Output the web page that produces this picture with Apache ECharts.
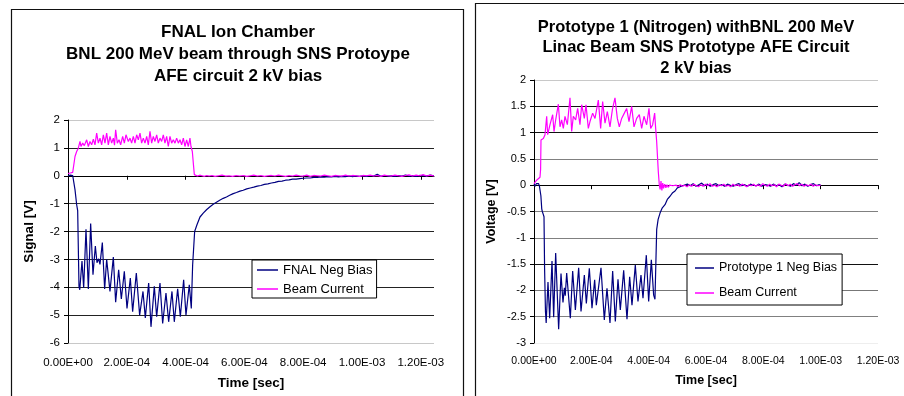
<!DOCTYPE html>
<html>
<head>
<meta charset="utf-8">
<title>Ion chamber signals</title>
<script src="https://cdn.jsdelivr.net/npm/echarts@6/dist/echarts.min.js"></script>
<style>
  html, body { margin: 0; padding: 0; background: #fff; }
  #chart { width: 904px; height: 396px; }
</style>
</head>
<body>
<div id="chart"></div>
<script>
// time in microseconds, signal in volts

// left chart: FNAL ion chamber
var fnalBias = [
  [0, 0.0], [4, -0.03], [8, 0.02], [12, -0.04], [16, 0.01], [20.4, 0.0], [23.8, -0.5], [29.5, -1.04],
  [32.9, -1.25], [37.4, -3.97], [40, -4.09], [47.6, -3.06], [53.3, -4.03], [61.2, -1.92], [69.2, -4.06],
  [77.1, -1.71], [85, -3.55], [93, -2.52], [98.6, -3.12], [104.3, -2.98], [108.8, -3.18], [116.8, -2.4],
  [124.7, -4.06], [131.5, -3.0], [142.8, -4.15], [154.2, -2.92], [162.1, -4.54], [172.3, -3.37],
  [181.4, -4.42], [191.6, -3.43], [200.7, -4.76], [212, -3.67], [219.9, -4.88], [232.4, -3.49],
  [243.7, -5.0], [255.1, -4.15], [263, -5.1], [274.4, -3.85], [282.3, -5.42], [293.6, -3.97],
  [301.6, -5.06], [312.9, -3.85], [322, -5.3], [333.3, -4.21], [342.4, -5.24], [353.7, -4.15],
  [361.6, -5.24], [373, -4.06], [382.1, -5.06], [393.4, -3.73], [401.3, -5.0], [412.6, -3.91],
  [419.4, -4.76], [424, -3.19], [430.8, -2.0], [438.7, -1.76],
  [449, -1.48], [460, -1.34], [472, -1.21], [483, -1.11], [494, -1.02], [505, -0.95], [516, -0.88],
  [528, -0.81], [539, -0.76], [550, -0.7], [562, -0.64], [573, -0.6], [585, -0.55], [596, -0.52],
  [608, -0.47], [620, -0.44], [632, -0.41], [644, -0.37], [656, -0.35], [668, -0.31], [680, -0.29],
  [692, -0.26], [704, -0.24], [716, -0.2], [728, -0.19], [740, -0.16], [752, -0.15], [764, -0.12],
  [776, -0.12], [788, -0.1], [800, -0.09], [812, -0.08], [824, -0.08], [836, -0.06], [848, -0.06],
  [860, -0.04], [872, -0.05], [884, -0.03], [896, -0.04], [908, -0.02], [920, -0.04], [932, -0.02],
  [944, -0.03], [956, -0.01], [968, -0.03], [980, -0.01], [992, -0.02], [1004, 0.0], [1016, -0.02],
  [1028, 0.01], [1040, -0.01], [1052, 0.05], [1064, -0.02], [1076, 0.01], [1088, -0.01], [1100, 0.0],
  [1112, -0.02], [1124, 0.01], [1136, -0.01], [1148, 0.02], [1160, -0.01], [1172, 0.0], [1184, -0.02],
  [1196, 0.01], [1208, 0.0], [1220, -0.01], [1232, 0.02], [1245, 0.0]
];

var beamLeft = [
  [0, 0.08], [4, 0.05], [8, 0.1], [12, 0.07], [16, 0.12], [20.4, 0.16], [23.8, 0.69], [29.5, 0.87],
  [35.1, 0.99], [40.8, 1.23], [44.2, 1.05], [49.9, 1.17], [55.5, 1.08], [63.5, 1.29], [69.2, 1.05],
  [74.8, 1.23], [80.5, 1.11], [86.2, 1.31], [91.8, 1.11], [97.5, 1.53], [103.2, 1.17], [108.8, 1.35],
  [114.5, 1.11], [120.2, 1.47], [125.8, 1.17], [131.5, 1.53], [137.2, 1.11], [142.8, 1.41], [148.5, 1.17],
  [154.2, 1.35], [158.2, 1.1], [162.1, 1.65], [167.8, 1.17], [173.5, 1.29], [179.1, 1.11], [185.9, 1.41],
  [191.6, 1.17], [197.3, 1.47], [205.2, 1.23], [210.9, 1.35], [216.5, 1.17], [222.2, 1.41], [227.9, 1.17],
  [233.5, 1.47], [239.2, 1.29], [244.9, 1.53], [250.5, 1.17], [256.2, 1.35], [261.9, 1.17], [267.6, 1.41],
  [273.2, 1.11], [278.9, 1.59], [284.6, 1.17], [290.2, 1.41], [295.9, 1.23], [301.6, 1.47], [307.2, 1.17],
  [312.9, 1.35], [318.6, 1.23], [324.2, 1.47], [329.9, 1.17], [335.6, 1.41], [341.2, 1.05], [346.9, 1.41],
  [352.6, 1.17], [358.2, 1.29], [363.9, 1.17], [369.6, 1.35], [375.3, 1.17], [380.9, 1.29], [386.6, 1.11],
  [392.3, 1.35], [397.9, 1.05], [403.6, 1.29], [409.3, 1.05], [414.9, 1.35], [418.3, 1.05], [422.9, 0.87],
  [426.3, 0.45], [429.7, 0.04], [432, -0.02], [436, 0.03], [440, -0.01], [448, 0.02], [456, 0.0],
  [464, -0.02], [472, 0.01], [480, -0.01], [490, 0.01], [500, -0.02], [512, 0.0], [524, 0.02],
  [536, -0.01], [548, 0.0], [560, -0.02], [572, 0.01], [584, -0.01], [596, 0.01], [608, -0.02],
  [620, 0.0], [632, 0.02], [644, -0.01], [656, 0.01], [668, -0.02], [680, 0.0], [692, 0.01],
  [704, -0.01], [716, 0.02], [728, 0.0], [740, -0.02], [752, 0.01], [764, -0.01], [776, 0.02],
  [788, 0.0], [800, -0.01], [812, 0.02], [824, -0.02], [836, 0.01], [848, 0.0], [860, -0.01],
  [872, 0.02], [884, 0.0], [896, -0.02], [908, 0.01], [920, 0.0], [932, -0.01], [944, 0.02],
  [956, -0.01], [968, 0.01], [980, 0.0], [992, -0.02], [1004, 0.01], [1016, 0.0], [1028, 0.02],
  [1040, -0.01], [1052, 0.01], [1064, -0.02], [1076, 0.02], [1088, 0.0], [1100, -0.01], [1112, 0.02],
  [1124, 0.0], [1136, -0.02], [1148, 0.01], [1160, 0.03], [1172, -0.01], [1184, 0.02], [1196, 0.0],
  [1208, 0.04], [1220, -0.01], [1232, 0.02], [1245, -0.01]
];

// right chart: prototype 1 (nitrogen)
var protoBias = [
  [0, 0.02], [4, -0.02], [8, 0.03], [12, 0.0], [16, 0.03], [19, -0.02], [21, 0.0], [24, -0.2],
  [27, -0.45], [29, -0.5], [32, -0.55], [34.9, -0.6], [37, -1.6], [40, -2.4], [42.5, -2.62],
  [48.8, -1.84], [54.7, -2.53], [62.8, -1.44], [68.6, -2.51], [75.6, -1.29], [86, -2.74], [94.2, -1.68],
  [101.1, -2.23], [106, -1.95], [109, -2.1], [114, -1.67], [126.7, -2.53], [134.9, -1.63], [144.3, -2.37],
  [155.8, -1.57], [164, -2.4], [175.6, -1.71], [182.6, -2.25], [193, -1.58], [202.3, -2.34], [211.6, -1.8],
  [217.4, -2.28], [233.7, -1.57], [245.3, -2.56], [254.6, -1.96], [265.1, -2.62], [274.4, -1.63],
  [283.7, -2.59], [293, -1.79], [301.1, -2.37], [312.8, -1.62], [324.4, -2.55], [333.7, -1.74],
  [341.8, -2.28], [353.4, -1.52], [362.7, -2.21], [373.2, -1.71], [380.2, -2.15], [391.8, -1.33],
  [400, -2.21], [409.3, -1.42], [417.4, -2.09], [422, -2.17], [428, -0.84], [433, -0.65], [439.7, -0.53],
  [447.6, -0.43], [457, -0.37], [465, -0.27], [474.5, -0.21], [482.5, -0.15], [492, -0.11], [500, -0.05],
  [509.5, -0.03], [523, 0.0], [535, 0.02], [545, -0.01], [555, 0.03], [565, -0.02], [575, 0.01],
  [585, 0.04], [595, -0.01], [605, 0.02], [615, -0.02], [625, 0.01], [635, 0.03], [645, -0.01],
  [655, 0.01], [665, -0.02], [675, 0.02], [685, 0.0], [695, -0.02], [705, 0.01], [715, 0.03],
  [725, -0.01], [735, 0.01], [745, -0.02], [755, 0.02], [765, 0.0], [775, -0.01], [785, 0.02],
  [795, -0.02], [805, 0.01], [815, 0.0], [825, -0.02], [835, 0.02], [845, -0.01], [855, 0.01],
  [865, -0.03], [875, 0.02], [885, 0.0], [895, -0.02], [905, 0.03], [915, 0.0], [925, 0.05],
  [935, -0.01], [945, 0.02], [955, -0.02], [965, 0.01], [975, 0.03], [985, -0.01], [995, 0.01], [1000, 0.0]
];

var beamRight = [
  [0, 0.03], [5, 0.06], [10, 0.1], [15, 0.13], [20.9, 0.15], [23, 0.3], [24.4, 0.86], [32.6, 0.89],
  [38.4, 0.96], [44.2, 1.31], [47.7, 0.96], [55.8, 1.15], [65.1, 1.34], [69.8, 1.02], [75.6, 1.24],
  [84.9, 1.54], [90.7, 1.11], [96.5, 1.24], [102.3, 1.08], [108.1, 1.31], [116.3, 1.15], [125.6, 1.66],
  [131.4, 1.02], [137.2, 1.31], [145.3, 1.24], [152.3, 1.46], [160.4, 1.15], [166.3, 1.53], [175.6, 1.27],
  [181.4, 1.53], [189.5, 1.08], [195.3, 1.21], [204.6, 1.37], [212.8, 1.27], [224.4, 1.62], [232.5, 1.08],
  [239.5, 1.59], [247.7, 1.18], [255.8, 1.4], [265.1, 1.11], [273.2, 1.43], [282.5, 1.66], [290.7, 1.27],
  [297.6, 1.11], [305.8, 1.27], [315.1, 1.37], [323.2, 1.46], [331.4, 1.21], [340.7, 1.5], [348.8, 1.11],
  [358.1, 1.27], [367.4, 1.34], [375.6, 1.08], [383.7, 1.31], [393, 1.15], [401.1, 1.46], [407, 1.08],
  [413.9, 1.15], [420.9, 1.37], [424.4, 1.08], [427.9, 0.83], [433.7, 0.25], [437.2, 0.0], [440, -0.08],
  [443, 0.08], [446, -0.1], [449, 0.04], [452, -0.06], [456, 0.02], [460, -0.05], [464, 0.01],
  [468, -0.04], [473, 0.0], [478, -0.03], [484, -0.01], [490, -0.04], [496, 0.0], [503, -0.03],
  [510, 0.01], [518, -0.02], [526, 0.0], [534, -0.03], [542, 0.01], [550, -0.02], [558, 0.02],
  [566, -0.01], [574, -0.03], [582, 0.01], [590, -0.02], [598, 0.02], [606, -0.01], [614, 0.03],
  [622, -0.02], [630, 0.0], [638, -0.03], [646, 0.01], [654, -0.01], [662, 0.02], [670, -0.02],
  [678, 0.0], [686, -0.03], [694, 0.02], [702, -0.01], [710, 0.01], [718, -0.02], [726, 0.02],
  [734, 0.0], [742, -0.03], [750, 0.01], [758, -0.01], [766, 0.02], [774, -0.02], [782, 0.01],
  [790, -0.02], [798, 0.03], [806, 0.0], [814, -0.02], [822, 0.02], [830, -0.01], [838, 0.01],
  [846, -0.03], [854, 0.02], [862, 0.0], [870, -0.02], [878, 0.03], [886, -0.01], [894, 0.02],
  [902, -0.02], [910, 0.01], [918, 0.03], [926, -0.01], [934, 0.02], [942, -0.02], [950, 0.01],
  [958, -0.01], [966, 0.02], [974, -0.02], [982, 0.01], [990, -0.01], [1000, 0.0]
];

var xTickValues = [0, 200, 400, 600, 800, 1000, 1200];
var xTickLabels = ['0.00E+00', '2.00E-04', '4.00E-04', '6.00E-04', '8.00E-04', '1.00E-03', '1.20E-03'];

var font = '"Liberation Sans", Arial, sans-serif';
var navy = '#000080';
var pink = '#ff00ff';

function timeLabel(v) {
  var i = xTickValues.indexOf(v);
  return i >= 0 ? xTickLabels[i] : '';
}

function labelAxis(grid, max, size, margin, nameSize, nameGap) {
  return {
    gridIndex: grid, type: 'value', min: 0, max: max, interval: 200, position: 'bottom',
    axisLine: { show: false, onZero: false },
    axisTick: { show: false },
    splitLine: { show: false },
    axisLabel: {
      customValues: xTickValues, formatter: timeLabel,
      fontFamily: font, fontSize: size, color: '#000', margin: margin
    },
    name: 'Time [sec]', nameLocation: 'middle', nameGap: nameGap,
    nameTextStyle: { fontFamily: font, fontSize: nameSize, fontWeight: 'bold', color: '#000' }
  };
}

function zeroAxis(grid, max) {
  return {
    gridIndex: grid, type: 'value', min: 0, max: max, position: 'bottom',
    axisLine: { show: true, onZero: true, lineStyle: { color: '#000', width: 1 } },
    axisTick: { show: true, customValues: xTickValues, length: 4, lineStyle: { color: '#000' } },
    axisLabel: { show: false },
    splitLine: { show: false }
  };
}

function valueAxis(grid, min, max, step, name, size, nameSize, nameGap, lineColors) {
  return {
    gridIndex: grid, type: 'value', min: min, max: max, interval: step,
    name: name, nameLocation: 'middle', nameGap: nameGap, nameRotate: 90,
    nameTextStyle: { fontFamily: font, fontSize: nameSize, fontWeight: 'bold', color: '#000' },
    axisLine: { show: true, onZero: false, lineStyle: { color: '#000', width: 1 } },
    axisTick: { show: true, length: 4, lineStyle: { color: '#000' } },
    axisLabel: { fontFamily: font, fontSize: size, color: '#000', margin: 8 },
    splitLine: { show: true, lineStyle: { color: lineColors, width: 1 } }
  };
}

function trace(name, xi, yi, data, color) {
  return {
    name: name, type: 'line', xAxisIndex: xi, yAxisIndex: yi, data: data,
    symbol: 'none', animation: false,
    lineStyle: { color: color, width: 1.2 },
    itemStyle: { color: color }
  };
}

var chart = echarts.init(document.getElementById('chart'));
chart.setOption({
  backgroundColor: '#fff',
  animation: false,
  graphic: [
    { type: 'rect', shape: { x: 11.5, y: 9.5, width: 452, height: 400 },
      style: { fill: 'none', stroke: '#111', lineWidth: 1.2 } },
    { type: 'rect', shape: { x: 475.5, y: 3.5, width: 440, height: 400 },
      style: { fill: 'none', stroke: '#111', lineWidth: 1.2 } }
  ],
  title: [
    {
      text: 'FNAL Ion Chamber\nBNL 200 MeV beam through SNS Protoype\nAFE circuit 2 kV bias',
      left: 238, top: 21, padding: 0, textAlign: 'center', textVerticalAlign: 'top',
      textStyle: { fontFamily: font, fontSize: 17, fontWeight: 'bold', lineHeight: 22, color: '#000' }
    },
    {
      text: 'Prototype 1 (Nitrogen) withBNL 200 MeV\nLinac Beam SNS Prototype AFE Circuit\n2 kV bias',
      left: 696, top: 17, padding: 0, textAlign: 'center', textVerticalAlign: 'top',
      textStyle: { fontFamily: font, fontSize: 16.5, fontWeight: 'bold', lineHeight: 20.5, color: '#000' }
    }
  ],
  legend: [
    {
      data: ['FNAL Neg Bias', 'Beam Current'], orient: 'vertical', left: 252, top: 260,
      icon: 'rect', padding: [3, 4, 2, 5], itemGap: 5, itemWidth: 21, itemHeight: 1.5,
      borderColor: '#000', borderWidth: 1, backgroundColor: '#fff', selectedMode: false,
      textStyle: { fontFamily: font, fontSize: 13, lineHeight: 14, color: '#000' }
    },
    {
      data: ['Prototype 1 Neg Bias', 'Beam Current'], orient: 'vertical', left: 687, top: 254,
      icon: 'rect', padding: [7, 5, 5, 8], itemGap: 11, itemWidth: 19, itemHeight: 1.5,
      borderColor: '#000', borderWidth: 1, backgroundColor: '#fff', selectedMode: false,
      textStyle: { fontFamily: font, fontSize: 12.5, lineHeight: 14, color: '#000' }
    }
  ],
  grid: [
    { left: 68, right: 470, top: 120, bottom: 53 },
    { left: 534, right: 26, top: 80, bottom: 53 }
  ],
  xAxis: [
    labelAxis(0, 1245, 11.5, 14, 13.5, 33),
    zeroAxis(0, 1245),
    labelAxis(1, 1200, 10.5, 13, 12.5, 31),
    zeroAxis(1, 1200)
  ],
  yAxis: [
    valueAxis(0, -6, 2, 1, 'Signal [V]', 11.5, 13.5, 32,
      ['#c8c8c8', '#222', '#222', '#222', '#222', '#333', '#000', '#222', '#c8c8c8']),
    valueAxis(1, -3, 2, 0.5, 'Voltage [V]', 11, 12.5, 36,
      ['#eeeeee', '#808080', '#777', '#111', '#808080', '#808080', '#000', '#808080', '#111', '#111', '#c8c8c8'])
  ],
  series: [
    trace('FNAL Neg Bias', 0, 0, fnalBias, navy),
    trace('Beam Current', 0, 0, beamLeft, pink),
    trace('Prototype 1 Neg Bias', 2, 1, protoBias, navy),
    trace('Beam Current', 2, 1, beamRight, pink)
  ]
});
</script>
</body>
</html>
